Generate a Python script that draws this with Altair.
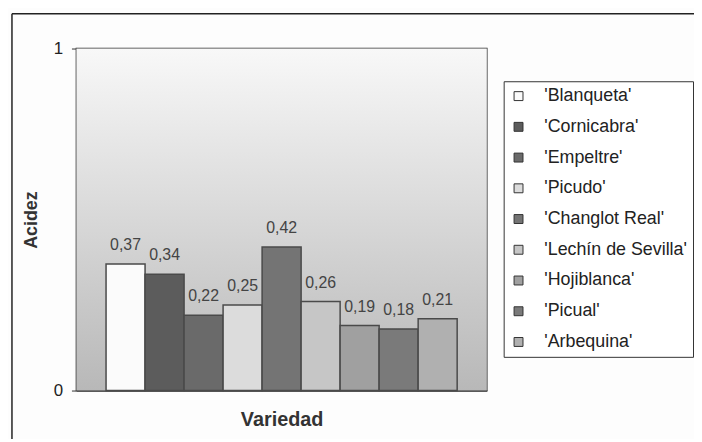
import altair as alt
import pandas as pd

variedades = ["'Blanqueta'", "'Cornicabra'", "'Empeltre'", "'Picudo'", "'Changlot Real'",
              "'Lechín de Sevilla'", "'Hojiblanca'", "'Picual'", "'Arbequina'"]
acidez = [0.37, 0.34, 0.22, 0.25, 0.42, 0.26, 0.19, 0.18, 0.21]
colores = ["#fbfbfb", "#5c5c5c", "#6a6a6a", "#dcdcdc", "#747474",
           "#c6c6c6", "#a0a0a0", "#7a7a7a", "#b0b0b0"]
y_ticks = [0, 1]

df = pd.DataFrame({"variedad": variedades, "acidez": acidez})
one = pd.DataFrame({"k": [0]})

W, H = 414, 345
FONT = "Arial, Liberation Sans, sans-serif"

x_enc = alt.X("variedad:N", sort=variedades,
              scale=alt.Scale(paddingInner=0, paddingOuter=0.76),
              axis=alt.Axis(labels=False, ticks=False, title="Variedad",
                            titleFontSize=20, titleFont=FONT, titleFontWeight="bold",
                            titleColor="#333", titlePadding=19,
                            domainColor="#333", domainWidth=1.5))
y_enc = alt.Y("acidez:Q", scale=alt.Scale(domain=[0, 1], nice=False),
              axis=alt.Axis(values=y_ticks, grid=False, title="Acidez", format="d",
                            titleFontSize=18, titleFont=FONT, titleFontWeight="bold",
                            titleColor="#333", titlePadding=13,
                            labelFontSize=17, labelFont=FONT, labelColor="#222",
                            labelPadding=9, tickSize=5, tickColor="#333",
                            domainColor="#333", domainWidth=1.5))

bg = alt.Chart(one).mark_rect(
    fill=alt.LinearGradient(gradient="linear",
                            stops=[alt.GradientStop(offset=0, color="#f8f8f8"),
                                   alt.GradientStop(offset=1, color="#b8b8b8")],
                            x1=0, x2=0, y1=0, y2=1)
).encode(x=alt.value(0), x2=alt.value(W), y=alt.value(0), y2=alt.value(H))

bars = alt.Chart(df).mark_bar(stroke="#4a4a4a", strokeWidth=1.5).encode(
    x=x_enc, y=y_enc,
    color=alt.Color("variedad:N", sort=variedades,
                    scale=alt.Scale(domain=variedades, range=colores),
                    legend=alt.Legend(title=None))
)

labels = alt.Chart(df).transform_calculate(
    lbl="replace(format(datum.acidez, '.2f'), '.', ',')"
).mark_text(baseline="bottom", dy=-11, fontSize=16, font=FONT, color="#444").encode(
    x=alt.X("variedad:N", sort=variedades), y="acidez:Q", text="lbl:N"
)

frame_top = alt.Chart(one).mark_rule(color="#222", strokeWidth=1.5).encode(
    x=alt.value(-65), x2=alt.value(640), y=alt.value(-35))
frame_left = alt.Chart(one).mark_rule(color="#222", strokeWidth=1.5).encode(
    x=alt.value(-65), y=alt.value(-35), y2=alt.value(420))

chart = alt.layer(bg, bars, labels, frame_top, frame_left).properties(
    width=W, height=H,
    autosize=alt.AutoSizeParams(type="none"),
    padding={"left": 69, "top": 39, "right": 209, "bottom": 47},
    background="#fdfdfd",
).configure_view(
    stroke="#333", strokeWidth=1.5, fill=None
).configure_legend(
    orient="none", legendX=431, legendY=33,
    strokeColor="#333", fillColor="#ffffff", padding=6,
    labelFontSize=18, labelFont=FONT, labelColor="#222", labelLimit=400,
    symbolType="square", symbolSize=81, symbolStrokeColor="#333", symbolStrokeWidth=1,
    rowPadding=13, labelOffset=17
)

chart.save("out.html", embed_options={"renderer": "svg", "actions": False})
